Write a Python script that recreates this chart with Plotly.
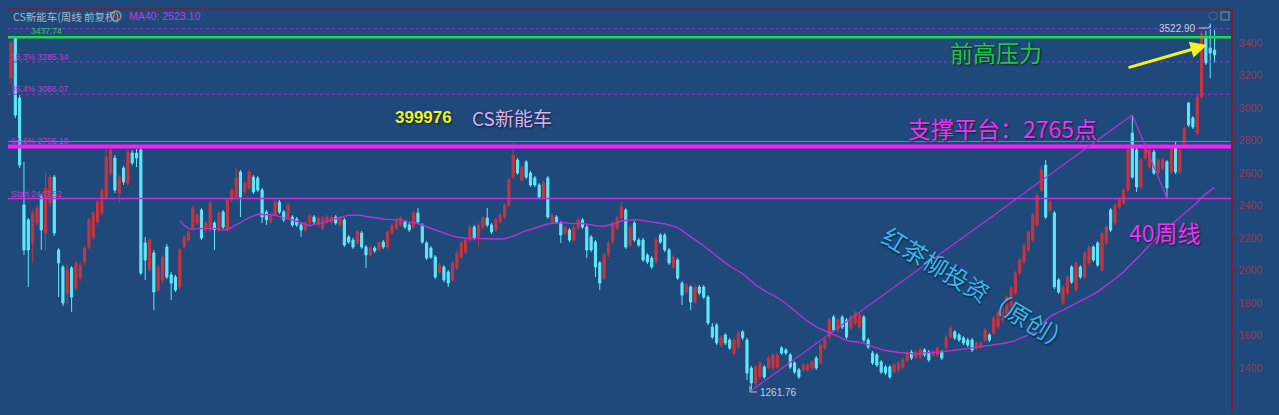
import plotly.graph_objects as go
import pandas as pd

# ---------------- data (weekly candles) ----------------
opens = [
    3186, 3430, 3063, 2404, 2312, 2170, 2293, 2453, 2231, 2416,
    2576, 2127, 2022, 1862, 2016, 1893, 1954, 2053, 2145, 2207,
    2299, 2355, 2453, 2601, 2693, 2478, 2632, 2539, 2724, 2724,
    2743, 2170, 2004, 2108, 1880, 1942, 2145, 1973, 1960, 1899,
    2145, 2188, 2262, 2293, 2373, 2250, 2250, 2293, 2250, 2361,
    2250, 2435, 2453, 2607, 2484, 2509, 2576, 2570, 2496, 2361,
    2299, 2342, 2422, 2361, 2324, 2330, 2318, 2281, 2250, 2293,
    2330, 2281, 2262, 2299, 2299, 2330, 2281, 2312, 2207, 2188,
    2170, 2231, 2145, 2096, 2139, 2127, 2176, 2145, 2231, 2262,
    2281, 2299, 2281, 2268, 2355, 2281, 2170, 2139, 2084, 1991,
    2022, 1991, 1942, 2016, 2084, 2114, 2188, 2268, 2207, 2268,
    2324, 2281, 2250, 2299, 2330, 2404, 2576, 2681, 2558, 2669,
    2601, 2570, 2527, 2453, 2570, 2299, 2330, 2293, 2231, 2250,
    2188, 2262, 2312, 2268, 2207, 2176, 2047, 1954, 2096, 2176,
    2262, 2324, 2373, 2157, 2293, 2188, 2188, 2096, 2077, 2053,
    2219, 2219, 2127, 2022, 2065, 1923, 1868, 1899, 1806, 1899,
    1899, 1837, 1652, 1665, 1541, 1603, 1572, 1492, 1529, 1622,
    1572, 1400, 1308, 1345, 1406, 1400, 1400, 1406, 1523, 1511,
    1480, 1431, 1388, 1388, 1388, 1400, 1461, 1431, 1523, 1591,
    1714, 1634, 1714, 1696, 1646, 1677, 1652, 1714, 1572, 1492,
    1480, 1437, 1406, 1406, 1375, 1388, 1406, 1449, 1498, 1468,
    1468, 1511, 1498, 1480, 1480, 1498, 1523, 1591, 1622, 1603,
    1585, 1572, 1572, 1523, 1529, 1572, 1603, 1615, 1652, 1696,
    1739, 1788, 1862, 1985, 2053, 2127, 2188, 2281, 2496, 2650,
    2373, 2355, 1942, 1800, 1862, 2022, 1880, 2022, 1960, 2047,
    2145, 2170, 2004, 2170, 2373, 2293, 2392, 2416, 2496, 2847,
    2743, 2515, 2693, 2638, 2730, 2601, 2632, 2669, 2607, 2761,
    2607, 2786, 3032, 2940, 2847, 3069, 3433, 3371, 3359,
]
highs = [
    3420, 3437.74, 3081, 2669, 2324, 2373, 2404, 2472, 2601, 2589,
    2589, 2139, 2034, 2040, 2028, 2059, 2053, 2151, 2324, 2367,
    2435, 2509, 2774, 2774, 2712, 2589, 2644, 2743, 2743, 2749,
    2755, 2207, 2201, 2127, 2034, 2096, 2164, 1991, 1973, 2139,
    2219, 2250, 2398, 2355, 2385, 2305, 2429, 2305, 2367, 2373,
    2447, 2509, 2632, 2620, 2552, 2620, 2589, 2583, 2509, 2373,
    2355, 2435, 2435, 2373, 2416, 2342, 2330, 2293, 2305, 2348,
    2342, 2336, 2336, 2342, 2342, 2342, 2336, 2324, 2219, 2201,
    2250, 2244, 2157, 2151, 2151, 2182, 2188, 2250, 2293, 2324,
    2336, 2312, 2293, 2367, 2385, 2293, 2182, 2151, 2096, 2047,
    2034, 2004, 2059, 2121, 2182, 2201, 2281, 2281, 2293, 2336,
    2385, 2293, 2324, 2355, 2416, 2570, 2786, 2693, 2650, 2681,
    2613, 2583, 2539, 2552, 2583, 2355, 2342, 2305, 2275, 2262,
    2281, 2324, 2324, 2281, 2219, 2188, 2059, 2108, 2182, 2305,
    2336, 2422, 2385, 2281, 2305, 2201, 2201, 2108, 2090, 2201,
    2231, 2231, 2139, 2096, 2077, 1936, 1923, 1911, 1911, 1911,
    1911, 1849, 1677, 1677, 1603, 1615, 1585, 1585, 1628, 1634,
    1585, 1412, 1418, 1443, 1418, 1474, 1492, 1492, 1535, 1523,
    1492, 1443, 1400, 1431, 1431, 1449, 1474, 1554, 1585, 1708,
    1726, 1708, 1726, 1708, 1726, 1751, 1739, 1726, 1585, 1504,
    1492, 1449, 1418, 1418, 1431, 1443, 1461, 1504, 1511, 1511,
    1523, 1523, 1511, 1511, 1535, 1511, 1603, 1659, 1634, 1615,
    1597, 1585, 1585, 1566, 1566, 1646, 1615, 1720, 1757, 1800,
    1849, 1905, 1997, 2077, 2170, 2250, 2355, 2478, 2650, 2681,
    2435, 2367, 1954, 1911, 1973, 2034, 2059, 2034, 2121, 2157,
    2157, 2182, 2244, 2281, 2385, 2416, 2447, 2509, 2755, 2958,
    2755, 2693, 2786, 2755, 2743, 2693, 2693, 2681, 2767, 2792,
    2755, 2891, 3038, 2952, 3081, 3476, 3476, 3522.90, 3482,
]
lows = [
    3143, 2940, 2632, 2096, 1899, 2047, 2275, 2127, 2127, 2392,
    2213, 1837, 1782, 1788, 1745, 1874, 1936, 2034, 2133, 2188,
    2281, 2342, 2441, 2583, 2478, 2416, 2527, 2521, 2650, 2638,
    1973, 1942, 1991, 1757, 1868, 1923, 1948, 1819, 1868, 1886,
    2133, 2176, 2250, 2281, 2188, 2231, 2238, 2127, 2238, 2256,
    2238, 2422, 2441, 2330, 2465, 2496, 2472, 2484, 2293, 2281,
    2287, 2330, 2348, 2299, 2312, 2268, 2268, 2207, 2238, 2281,
    2287, 2268, 2250, 2287, 2287, 2281, 2268, 2145, 2164, 2133,
    2157, 2133, 2016, 2084, 2108, 2114, 2133, 2133, 2219, 2250,
    2268, 2256, 2238, 2256, 2287, 2164, 2065, 2071, 1948, 1979,
    1929, 1899, 1929, 2004, 2071, 2102, 2176, 2188, 2145, 2256,
    2268, 2225, 2238, 2287, 2318, 2392, 2564, 2589, 2546, 2564,
    2515, 2515, 2441, 2441, 2318, 2287, 2287, 2170, 2219, 2176,
    2176, 2250, 2256, 2077, 2114, 1960, 1880, 1942, 2084, 2164,
    2250, 2312, 2133, 2145, 2176, 2145, 2053, 2040, 2010, 2040,
    2164, 2114, 2034, 2010, 1942, 1788, 1856, 1757, 1794, 1849,
    1825, 1665, 1578, 1541, 1529, 1541, 1511, 1480, 1517, 1572,
    1326, 1261.76, 1295, 1332, 1332, 1388, 1388, 1394, 1480, 1480,
    1394, 1363, 1332, 1375, 1375, 1388, 1388, 1418, 1511, 1578,
    1622, 1622, 1640, 1578, 1634, 1665, 1640, 1560, 1517, 1418,
    1406, 1363, 1357, 1332, 1363, 1375, 1394, 1437, 1449, 1455,
    1455, 1468, 1437, 1468, 1468, 1449, 1511, 1578, 1572, 1560,
    1541, 1529, 1498, 1511, 1517, 1560, 1560, 1603, 1640, 1683,
    1726, 1776, 1849, 1973, 2040, 2114, 2176, 2268, 2484, 2318,
    2361, 1886, 1856, 1788, 1849, 1917, 1868, 1948, 1948, 2034,
    2053, 2022, 1991, 2157, 2238, 2281, 2379, 2404, 2484, 2564,
    2484, 2502, 2681, 2626, 2589, 2589, 2620, 2447, 2595, 2595,
    2595, 2774, 2884, 2872, 2835, 3057, 3266, 3186, 3279,
]
closes = [
    3402, 2958, 2650, 2127, 2127, 2355, 2385, 2250, 2509, 2576,
    2231, 2047, 1800, 2004, 1837, 2047, 2034, 2139, 2312, 2355,
    2422, 2496, 2700, 2743, 2496, 2576, 2546, 2730, 2663, 2693,
    1985, 2065, 2188, 1868, 2022, 2084, 1960, 1923, 1880, 2127,
    2207, 2238, 2385, 2342, 2201, 2293, 2416, 2250, 2355, 2268,
    2435, 2496, 2570, 2453, 2539, 2607, 2484, 2496, 2330, 2312,
    2342, 2422, 2361, 2312, 2404, 2281, 2281, 2250, 2293, 2336,
    2299, 2324, 2324, 2330, 2330, 2293, 2324, 2157, 2176, 2145,
    2238, 2145, 2096, 2139, 2121, 2170, 2145, 2238, 2281, 2312,
    2324, 2268, 2250, 2355, 2299, 2176, 2077, 2084, 1960, 2034,
    1942, 1923, 2047, 2108, 2170, 2188, 2268, 2201, 2281, 2324,
    2281, 2238, 2312, 2342, 2404, 2558, 2712, 2601, 2638, 2576,
    2527, 2527, 2453, 2539, 2330, 2342, 2299, 2219, 2262, 2188,
    2268, 2312, 2268, 2127, 2127, 2022, 1923, 2096, 2170, 2293,
    2324, 2392, 2145, 2268, 2188, 2157, 2065, 2053, 2022, 2188,
    2176, 2127, 2047, 2084, 1954, 1849, 1911, 1806, 1899, 1862,
    1837, 1677, 1591, 1554, 1591, 1554, 1523, 1572, 1615, 1585,
    1369, 1308, 1406, 1431, 1345, 1461, 1480, 1480, 1492, 1492,
    1406, 1375, 1345, 1418, 1418, 1437, 1400, 1541, 1572, 1696,
    1634, 1696, 1652, 1591, 1714, 1739, 1726, 1572, 1529, 1431,
    1418, 1375, 1369, 1345, 1418, 1431, 1449, 1492, 1461, 1498,
    1511, 1480, 1449, 1498, 1523, 1461, 1591, 1646, 1585, 1572,
    1554, 1541, 1511, 1554, 1554, 1634, 1572, 1708, 1745, 1788,
    1837, 1893, 1985, 2065, 2157, 2238, 2342, 2465, 2620, 2330,
    2422, 1899, 1868, 1899, 1960, 1929, 2047, 1960, 2108, 2145,
    2065, 2034, 2231, 2268, 2250, 2404, 2435, 2496, 2743, 2576,
    2515, 2681, 2774, 2743, 2601, 2681, 2681, 2509, 2755, 2607,
    2743, 2878, 2897, 2884, 3069, 3463, 3279, 3340, 3328,
]

# reference levels drawn on the chart
prev_high = 3437.74
top_dashed = 3490
fib_levels = [3285.34, 3086.07]
fib_labels = ["15.3% 3285.34", "35.4% 3086.07"]
grey_level = 2795.10
grey_label = "64.6% 2795.10"
support_level = 2765
start_level = 2443.52
start_label = "Start 2443.52"
y_ticks = [1400, 1600, 1800, 2000, 2200, 2400, 2600, 2800, 3000, 3200, 3400]

low_idx, low_val = 171, 1261.76
peak_idx, peak_val = 259, 2958
dip_idx, dip_val = 267, 2447
hi_idx, hi_val = 277, 3522.90
ma_text = "MA40: 2523.10"

n = min(len(opens), len(highs), len(lows), len(closes))
opens, highs, lows, closes = opens[:n], highs[:n], lows[:n], closes[:n]
xs = list(range(n))
ma40 = pd.Series(closes).rolling(40).mean()

# ---------------- layout helpers (pixel -> paper) ----------------
W, H = 1279, 415
ML, MR, MT, MB = 8, 48, 9, 2
PW, PH = W - ML - MR, H - MT - MB


def px(x):
    return (x - ML) / PW


def py(y):
    return (H - MB - y) / PH


BG = "#1f497b"
RED = "#c8343f"
CYAN = "#5fe8f8"
MAG = "#ff1aff"
AXIS = "#7a2038"
CJK = "Noto Sans CJK SC"
SHADOW = "1px 1px 2px #0a1a30"

fig = go.Figure()

fig.add_trace(go.Candlestick(
    x=xs, open=opens, high=highs, low=lows, close=closes,
    increasing=dict(line=dict(color=RED, width=1), fillcolor=RED),
    decreasing=dict(line=dict(color=CYAN, width=1), fillcolor=CYAN),
    whiskerwidth=0, showlegend=False, hoverinfo="skip",
))

fig.add_trace(go.Scatter(
    x=xs, y=ma40, mode="lines", line=dict(color="#b533d6", width=1.4),
    showlegend=False, hoverinfo="skip",
))

shapes = []


def hline(v, color, width, dash="solid"):
    shapes.append(dict(type="line", xref="paper", x0=0, x1=1, yref="y", y0=v, y1=v,
                       line=dict(color=color, width=width, dash=dash), layer="above"))


hline(top_dashed, "#9a35c8", 1, "dot")
for v in fib_levels:
    hline(v, "#9a35c8", 1, "dot")
hline(grey_level, "#6a86a8", 1)
hline(support_level, MAG, 4)
hline(prev_high, "#24d84a", 2.5)
hline(start_level, "#c232dc", 1.5)

# trend lines
shapes.append(dict(type="line", xref="x", yref="y", x0=low_idx, y0=low_val, x1=peak_idx, y1=peak_val,
                   line=dict(color="#b533d6", width=1.2)))
shapes.append(dict(type="line", xref="x", yref="y", x0=peak_idx, y0=peak_val, x1=dip_idx, y1=dip_val,
                   line=dict(color="#b533d6", width=1.2)))

# top border
shapes.append(dict(type="line", xref="paper", yref="paper", x0=0, x1=1, y0=1, y1=1,
                   line=dict(color=AXIS, width=1.5)))
# small icons
shapes.append(dict(type="circle", xref="paper", yref="paper", x0=px(111), x1=px(121), y0=py(21), y1=py(11),
                   line=dict(color="#8a94a4", width=1.5), fillcolor="#3a4a5e"))
shapes.append(dict(type="circle", xref="paper", yref="paper", x0=px(1209), x1=px(1217), y0=py(20), y1=py(12),
                   line=dict(color="#4a6888", width=1)))
shapes.append(dict(type="rect", xref="paper", yref="paper", x0=px(1221), x1=px(1229), y0=py(20), y1=py(12),
                   line=dict(color="#8a94a4", width=1)))
# pointer for the low label
shapes.append(dict(type="path", xref="paper", yref="paper",
                   path=f"M {px(750)} {py(386)} L {px(750)} {py(392)} L {px(757)} {py(392)}",
                   line=dict(color="#c0c8d4", width=1)))
# pointer for the high label
shapes.append(dict(type="path", xref="paper", yref="paper",
                   path=f"M {px(1199)} {py(28)} L {px(1208)} {py(28)} L {px(1211)} {py(25)}",
                   line=dict(color="#c0c8d4", width=1)))

ann = []


def text(x, y, s, color, size, anchor="left", family=CJK, bold=False, angle=0, shadow=None):
    f = dict(color=color, size=size, family=family)
    if shadow:
        f["shadow"] = shadow
    ann.append(dict(xref="paper", yref="paper", x=px(x), y=py(y), text=(f"<b>{s}</b>" if bold else s),
                    showarrow=False, xanchor=anchor, yanchor="middle", font=f, textangle=angle))


text(11, 16, "CS新能车(周线 前复权)", "#aab4c6", 10.5)
text(127, 16, ma_text, "#c23ad8", 10.5, family="Liberation Sans")
text(29, 31, f"{prev_high:.2f}", "#2ad452", 8.5, family="Liberation Sans")
text(9, 57, fib_labels[0], "#c23ad8", 8.5, family="Liberation Sans")
text(9, 89, fib_labels[1], "#c23ad8", 8.5, family="Liberation Sans")
text(9, 141, grey_label, "#c23ad8", 8.5, family="Liberation Sans")
text(9, 194, start_label, "#c23ad8", 8.5, family="Liberation Sans")

text(393, 117, "399976", "#f2f21e", 17, family="Liberation Sans", bold=True, shadow=SHADOW)
text(470, 117, "CS新能车", "#dcb2ee", 19, shadow=SHADOW)
text(996, 52, "前高压力", "#1ec83c", 23, anchor="center", shadow=SHADOW)
text(1002, 128, "支撑平台：2765点", "#f232f2", 23, anchor="center", shadow=SHADOW)
text(1165, 232, "40周线", "#f232f2", 23, anchor="center", shadow=SHADOW)
text(978, 288, "红茶柳投资（原创）", "#3cb6ea", 24, anchor="center", angle=31, shadow=SHADOW)

text(758, 392, f"{low_val:.2f}", "#c8d0da", 10, family="Liberation Sans")
text(1198, 28, f"{hi_val:.2f}", "#c8d0da", 10, anchor="right", family="Liberation Sans")

# yellow arrow
ann.append(dict(xref="paper", yref="paper", x=px(1207), y=py(45), ax=1127 - 1207, ay=68 - 45,
                axref="pixel", ayref="pixel", text="", showarrow=True,
                arrowhead=2, arrowsize=1.1, arrowwidth=3, arrowcolor="#f2f21e"))

fig.update_layout(
    width=W, height=H,
    margin=dict(l=ML, r=MR, t=MT, b=MB),
    paper_bgcolor=BG, plot_bgcolor=BG,
    showlegend=False, hovermode=False,
    shapes=shapes, annotations=ann,
    xaxis=dict(range=[-0.69, 281.8], visible=False, rangeslider=dict(visible=False),
               showgrid=False, zeroline=False),
    yaxis=dict(range=[1122.6, 3611.3], side="right", tickvals=y_ticks,
               tickfont=dict(color="#a23550", size=10.5, family="Liberation Sans"),
               ticks="outside", ticklen=4, tickcolor=AXIS,
               showline=True, linecolor=AXIS, linewidth=1.5,
               showgrid=False, zeroline=False, fixedrange=True),
)

fig.write_html(
    "out.html",
    config={"displayModeBar": False},
    post_script="document.body.style.margin='0';document.body.style.background='" + BG + "';",
)
